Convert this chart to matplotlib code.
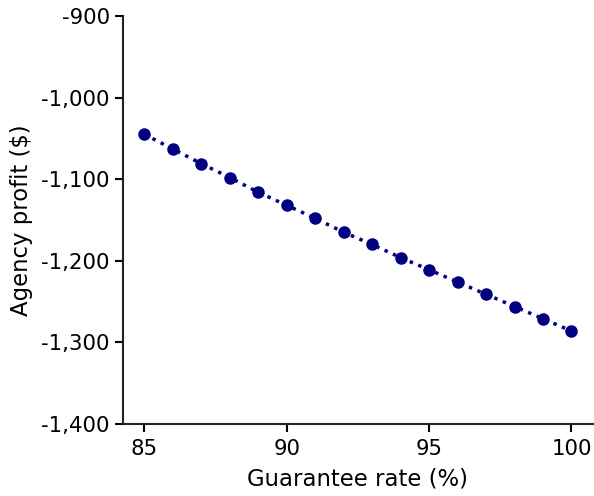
import matplotlib
matplotlib.use("Agg")
import matplotlib.pyplot as plt
from matplotlib.ticker import FuncFormatter

guarantee_rate = [85, 86, 87, 88, 89, 90, 91, 92, 93, 94, 95, 96, 97, 98, 99, 100]
agency_profit = [-1045, -1063, -1081, -1098, -1116, -1132, -1148, -1165,
                 -1180, -1196, -1211, -1226, -1241, -1256, -1271, -1286]

fig = plt.figure(figsize=(5.94, 4.96), dpi=100)
ax = fig.add_axes([0.207, 0.145, 0.791, 0.823])

ax.plot(guarantee_rate, agency_profit, linestyle=":", linewidth=2.5,
        color="navy", marker="o", markersize=8)

ax.set_ylim(-1400, -900)
ax.set_xticks([85, 90, 95, 100])
ax.set_yticks(range(-1400, -899, 100))
ax.yaxis.set_major_formatter(FuncFormatter(lambda v, p: f"{int(v):,}"))

ax.spines["top"].set_visible(False)
ax.spines["right"].set_visible(False)
for s in ("left", "bottom"):
    ax.spines[s].set_linewidth(1.5)
    ax.spines[s].set_color("#222222")
ax.tick_params(labelsize=15.3, width=1.5, length=6)
ax.tick_params(axis="x", pad=5)

ax.set_xlabel("Guarantee rate (%)", fontsize=16.4, labelpad=6)
ax.set_ylabel("Agency profit ($)", fontsize=16.4, labelpad=6)

fig.savefig("out.png", dpi=100)
